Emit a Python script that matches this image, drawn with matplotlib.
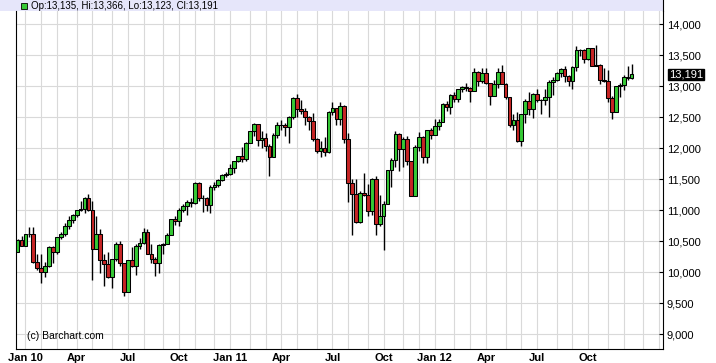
import numpy as np
import pandas as pd
import matplotlib
matplotlib.use("Agg")
import matplotlib.pyplot as plt
from matplotlib.patches import Rectangle
from matplotlib.lines import Line2D
from matplotlib.ticker import FuncFormatter

# weekly candles, first week starts Mon 2009-12-21
first_week = "2009-12-21"

opens = [10328, 10520,
         10428, 10618, 10610, 10173, 10067, 10012, 10099, 10402, 10325, 10566, 10625, 10742, 10850,
         10927, 10997, 11019, 11204, 11009, 10380, 10620, 10193, 10137, 9932, 10211, 10451, 10144,
         9686, 10198, 10098, 10425, 10466, 10654, 10303, 10214, 10151, 10448, 10463, 10608, 10860,
         10830, 11006, 11063, 11133, 11118, 11444, 11193, 11204, 11092, 11382, 11410, 11492, 11573,
         11578, 11675, 11787, 11872, 11824, 12092, 12273, 12391, 12130, 12170, 12044, 11859, 12221,
         12377, 12380, 12342, 12506, 12811, 12639, 12596, 12512, 12442, 12151, 11952, 12004, 11935,
         12583, 12657, 12480, 12681, 12143, 11445, 11269, 10818, 11285, 11240, 10992, 11509, 10771,
         10913, 11103, 11644, 11809, 12231, 11983, 12154, 11796, 11232, 12019, 12184, 11866, 12294,
         12218, 12360, 12422, 12720, 12660, 12862, 12801, 12950, 12983, 12978, 12922, 13233, 13081,
         13212, 13060, 12850, 13029, 13228, 13038, 12821, 12369, 12455, 12119, 12554, 12767, 12641,
         12880, 12772, 12777, 12823, 13076, 13096, 13208, 13275, 13158, 13091, 13307, 13593, 13579,
         13437, 13610, 13329, 13344, 13107, 13093, 12815, 12588, 13010, 13026, 13155, 13135]

highs = [10536, 10580,
         10625, 10730, 10730, 10300, 10300, 10160, 10420, 10420, 10575, 10650, 10790, 10900, 10935,
         11005, 11150, 11210, 11258, 11150, 10900, 10700, 10300, 10330, 10220, 10490, 10500, 10150,
         10200, 10400, 10450, 10560, 10720, 10700, 10450, 10250, 10460, 10470, 10630, 10865, 10900,
         11030, 11100, 11170, 11200, 11450, 11450, 11250, 11210, 11400, 11450, 11500, 11580, 11610,
         11750, 11800, 11880, 12020, 12100, 12280, 12400, 12390, 12285, 12250, 12070, 12240, 12420,
         12450, 12400, 12520, 12830, 12876, 12780, 12650, 12520, 12570, 12160, 12110, 12190, 12600,
         12750, 12650, 12750, 12700, 12250, 11500, 11500, 11310, 11600, 11420, 11520, 11550, 11250,
         11150, 11650, 11850, 12285, 12240, 12180, 12200, 11800, 12060, 12270, 12200, 12300, 12330,
         12480, 12480, 12730, 12760, 12880, 12900, 12960, 13000, 13060, 12990, 13290, 13250, 13290,
         13300, 13060, 13100, 13300, 13340, 13050, 12830, 12560, 12580, 12560, 12800, 12900, 12885,
         12950, 12800, 12950, 13100, 13150, 13230, 13300, 13330, 13180, 13330, 13653, 13600, 13600,
         13620, 13600, 13660, 13360, 13290, 13260, 12850, 13010, 13060, 13180, 13330, 13366]

lows = [10320, 10428,
        10420, 10570, 10150, 10040, 9835, 9920, 10090, 10150, 10300, 10540, 10580, 10700, 10800,
        10890, 10990, 10960, 10990, 9870, 10380, 9990, 9775, 9900, 9750, 10180, 10100, 9614,
        9680, 10090, 9950, 10370, 10460, 10290, 10150, 9940, 9990, 10300, 10450, 10600, 10770,
        10750, 10980, 10930, 11050, 11100, 11150, 10970, 10990, 10950, 11330, 11380, 11480, 11530,
        11570, 11600, 11780, 11780, 11800, 12080, 12200, 12030, 12000, 11950, 11555, 11860, 12170,
        12300, 12200, 12090, 12480, 12500, 12550, 12380, 12300, 12110, 11930, 11860, 11870, 11930,
        12540, 12380, 12380, 12080, 11140, 10600, 10800, 10800, 11230, 10900, 10930, 10600, 10750,
        10360, 11100, 11370, 11700, 11630, 11700, 11730, 11230, 11230, 11950, 11760, 11760, 12150,
        12220, 12300, 12420, 12600, 12560, 12750, 12750, 12900, 12930, 12740, 12930, 13000, 13050,
        13040, 12700, 12860, 12980, 13030, 12800, 12350, 12300, 12100, 12030, 12400, 12540, 12490,
        12740, 12550, 12700, 12500, 12860, 13080, 13150, 13070, 13000, 12950, 13250, 13490, 13380,
        13430, 13320, 13320, 13040, 13070, 12740, 12470, 12580, 12830, 12940, 13100, 13123]

closes = [10520, 10428,
          10618, 10610, 10173, 10067, 10012, 10099, 10402, 10325, 10566, 10625, 10742, 10850, 10927,
          10997, 11019, 11204, 11009, 10380, 10620, 10193, 10137, 9932, 10211, 10451, 10144, 9686,
          10198, 10098, 10425, 10466, 10654, 10303, 10214, 10151, 10448, 10463, 10608, 10860, 10830,
          11006, 11063, 11133, 11118, 11444, 11193, 11204, 11092, 11382, 11410, 11492, 11573, 11578,
          11675, 11787, 11872, 11824, 12092, 12273, 12391, 12130, 12170, 12044, 11859, 12221, 12377,
          12380, 12342, 12506, 12811, 12639, 12596, 12512, 12442, 12151, 11952, 12004, 11935, 12583,
          12657, 12480, 12681, 12143, 11445, 11269, 10818, 11285, 11240, 10992, 11509, 10771, 10913,
          11103, 11644, 11809, 12231, 11983, 12154, 11796, 11232, 12019, 12184, 11866, 12294, 12218,
          12360, 12422, 12720, 12660, 12862, 12801, 12950, 12983, 12978, 12922, 13233, 13081, 13212,
          13060, 12850, 13029, 13228, 13038, 12821, 12369, 12455, 12119, 12554, 12767, 12641, 12880,
          12772, 12777, 12823, 13076, 13096, 13208, 13275, 13158, 13091, 13307, 13593, 13579, 13437,
          13610, 13329, 13344, 13107, 13093, 12815, 12588, 13010, 13026, 13155, 13135, 13191]

quarter_labels = ["Jan 10", "Apr", "Jul", "Oct", "Jan 11", "Apr", "Jul", "Oct",
                  "Jan 12", "Apr", "Jul", "Oct"]
y_ticks = list(range(9000, 14001, 500))

GREEN = "#36C936"
RED = "#C62525"
GRID = "#D9D9D9"

W, H = 716, 363
plt.rcParams["font.family"] = ["Liberation Sans", "DejaVu Sans"]
fig = plt.figure(figsize=(W / 100, H / 100), dpi=100)
ax = fig.add_axes([16 / W, (H - 348.5) / H, (663 - 16) / W, (348.5 - 11) / H])

o = np.array(opens)
h = np.array(highs)
l = np.array(lows)
c = np.array(closes)
x = np.arange(len(c))
up = c > o
cols = np.where(up, GREEN, RED)

# month grid lines sit on the first week starting inside the month
start = pd.Timestamp(first_week)
month_idx = []
for m in pd.date_range("2010-01-01", "2013-02-01", freq="MS"):
    mon = m + pd.Timedelta(days=(7 - m.weekday()) % 7)
    month_idx.append((mon - start).days // 7)
for i in month_idx:
    ax.axvline(i, color=GRID, lw=0.8, zorder=0)
ax.set_axisbelow(True)
ax.yaxis.grid(True, color=GRID, lw=0.8)

ax.vlines(x, l, h, color="black", lw=1.0, zorder=2)
body_lo = np.minimum(o, c)
body_h = np.abs(c - o)
ax.bar(x, body_h, bottom=body_lo, width=0.95, color=cols, edgecolor="black",
       linewidth=0.75, zorder=3)

ax.set_xlim(-0.41, 164.0)
ax.set_ylim(8771, 14214)

ax.set_xticks(month_idx[0:36:3][:len(quarter_labels)])
ax.set_xticklabels(quarter_labels, fontsize=8, fontweight="bold")
ax.tick_params(axis="x", length=0, pad=3.5)

ax.yaxis.tick_right()
ax.set_yticks(y_ticks)
ax.yaxis.set_major_formatter(FuncFormatter(lambda v, p: f"{int(v):,}"))
ax.tick_params(axis="y", direction="in", length=3, width=0.8, pad=2.7, labelsize=8)

ax.spines["top"].set_visible(False)
for s in ["left", "right", "bottom"]:
    ax.spines[s].set_color("black")
    ax.spines[s].set_linewidth(0.8)

# last price marker
ax.annotate(f"{closes[-1]:,}", xy=(1.0, closes[-1]), xycoords=("axes fraction", "data"),
            xytext=(4.5, 0), textcoords="offset points", ha="left", va="center",
            fontsize=8, color="white",
            bbox=dict(boxstyle="square,pad=0.08", fc="black", ec="black"))

ax.text((27 - 16) / 647, (348.5 - 336) / 337.5, "(c) Barchart.com", transform=ax.transAxes,
        fontsize=7.5, va="center", ha="left")

# header band
fig.add_artist(Rectangle((0, (H - 11) / H), 663 / W, 11 / H, transform=fig.transFigure,
                         fc="#E6E6FA", ec="none", zorder=0))
fig.add_artist(Line2D([663 / W, 663 / W], [(H - 11) / H, 1], transform=fig.transFigure,
                      color="black", lw=0.8))
fig.add_artist(Rectangle((21 / W, (H - 9) / H), 6 / W, 6 / H, transform=fig.transFigure,
                         fc=GREEN, ec="black", lw=0.6))
fig.text(31 / W, (H - 6) / H,
         f"Op:{opens[-1]:,}, Hi:{highs[-1]:,}, Lo:{lows[-1]:,}, Cl:{closes[-1]:,}",
         fontsize=7, va="center", ha="left")

fig.savefig("out.png", dpi=100)
